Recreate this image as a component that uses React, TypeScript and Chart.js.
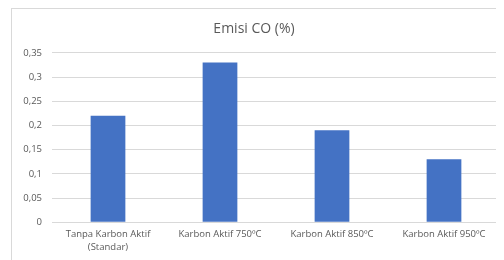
import React, { useEffect, useRef } from "react";
import { Chart, registerables } from "chart.js";

Chart.register(...registerables);

const categories: (string | string[])[] = [
  ["Tanpa Karbon Aktif", "(Standar)"],
  "Karbon Aktif 750ºC",
  "Karbon Aktif 850ºC",
  "Karbon Aktif 950ºC",
];
const values = [0.22, 0.33, 0.19, 0.13];
const title = "Emisi CO (%)";
const yMax = 0.35;
const yStep = 0.05;

export default function App() {
  const ref = useRef<HTMLCanvasElement>(null);
  useEffect(() => {
    if (!ref.current) return;
    const chart = new Chart(ref.current, {
      type: "bar",
      data: {
        labels: categories,
        datasets: [
          {
            data: values,
            backgroundColor: "#4472C4",
            borderWidth: 0,
            barPercentage: 0.62,
            categoryPercentage: 0.5,
          },
        ],
      },
      options: {
        animation: false,
        responsive: false,
        maintainAspectRatio: false,
        layout: { padding: { top: 13, left: 0, right: 4, bottom: 0 } },
        plugins: {
          legend: { display: false },
          tooltip: { enabled: false },
          title: {
            display: true,
            text: title,
            color: "#595959",
            font: { family: "Open Sans", size: 14, weight: "normal" },
            padding: { top: 0, bottom: 15 },
          },
        },
        scales: {
          x: {
            grid: { display: false, drawTicks: false },
            border: { display: true, color: "#d9d9d9" },
            ticks: {
              color: "#595959",
              font: { family: "Open Sans", size: 9.5, lineHeight: 1.35 },
              padding: 6,
              maxRotation: 0,
              autoSkip: false,
            },
          },
          y: {
            min: 0,
            max: yMax,
            afterFit: (s: any) => {
              s.width = 44;
            },
            grid: { color: "#d9d9d9", drawTicks: false },
            border: { display: false },
            ticks: {
              stepSize: yStep,
              color: "#595959",
              font: { family: "Open Sans", size: 9.5 },
              padding: 10,
              callback: (v: any) => {
                const n = Math.round(Number(v) * 100) / 100;
                return String(n).replace(".", ",");
              },
            },
          },
        },
      },
    });
    return () => chart.destroy();
  }, []);
  return (
    <div style={{ position: "relative", width: 496, height: 252 }}>
      <div
        style={{
          position: "absolute",
          left: 3,
          top: 0,
          width: 520,
          height: 270,
          border: "1px solid #d9d9d9",
          boxSizing: "border-box",
        }}
      />
      <canvas
        ref={ref}
        width={496}
        height={252}
        style={{ position: "absolute", left: 0, top: 0 }}
      />
    </div>
  );
}
